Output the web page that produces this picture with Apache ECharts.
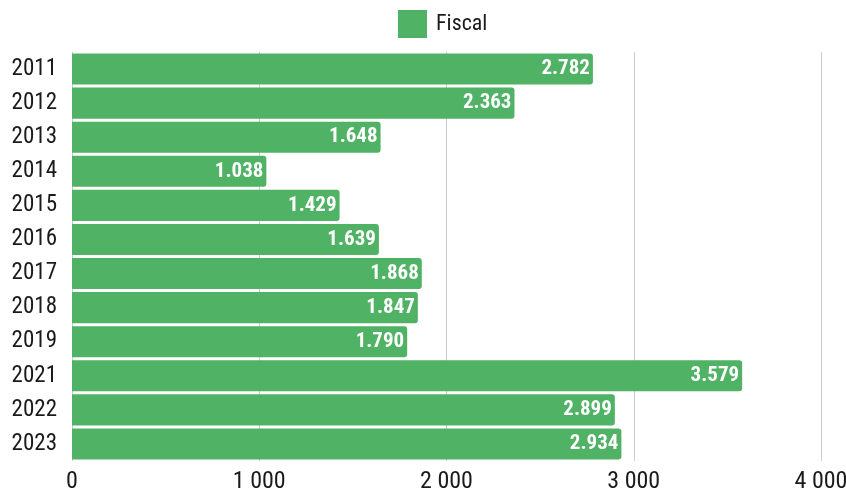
<!DOCTYPE html>
<html><head><meta charset="utf-8">
<script src="https://cdn.jsdelivr.net/npm/echarts@6/dist/echarts.min.js"></script>
<style>html,body{margin:0;padding:0;background:#fff}#c{width:846px;height:491px}</style>
</head><body><div id="c"></div>
<script>
const categories = ['2011','2012','2013','2014','2015','2016','2017','2018','2019','2021','2022','2023'];
const fiscal = [2782,2363,1648,1038,1429,1639,1868,1847,1790,3579,2899,2934];
const xTicks = [0,1000,2000,3000,4000];

function fmtSpace(v){ return String(v).replace(/\B(?=(\d{3})+(?!\d))/g,' '); }
function fmtDot(v){ return String(v).replace(/\B(?=(\d{3})+(?!\d))/g,'.'); }

const FONT = "'Roboto Condensed', Roboto";
const chart = echarts.init(document.getElementById('c'));
chart.setOption({
  animation:false,
  textStyle:{fontFamily:FONT},
  legend:{
    top:10, left:398, padding:0, itemWidth:29, itemHeight:28, itemGap:9, icon:'rect',
    textStyle:{fontSize:22, color:'#1a1a1a', fontFamily:FONT, padding:[0,0,0,4]},
    data:['Fiscal']
  },
  grid:{left:72, right:25, top:52, bottom:30, containLabel:false, outerBoundsMode:'none'},
  xAxis:{
    type:'value', min:xTicks[0], max:xTicks[xTicks.length-1], interval:1000,
    axisLine:{show:false}, axisTick:{show:false},
    splitLine:{show:true, lineStyle:{color:'#cccccc', width:1}},
    axisLabel:{fontSize:24, color:'#1a1a1a', margin:9, formatter:fmtSpace, fontFamily:FONT}
  },
  yAxis:{
    type:'category', data:categories, inverse:true,
    axisLine:{show:false}, axisTick:{show:false},
    axisLabel:{fontSize:23, color:'#1a1a1a', margin:15, fontFamily:FONT}
  },
  series:[{
    name:'Fiscal', type:'bar', data:fiscal,
    barCategoryGap:'9%',
    itemStyle:{color:'#50b264', borderRadius:[0,3,3,0]},
    label:{show:true, position:'insideRight', distance:3, color:'#fff', fontWeight:'bold', fontSize:21,
      fontFamily:FONT, formatter:p=>fmtDot(p.value), offset:[0,0]}
  }]
});
</script></body></html>
